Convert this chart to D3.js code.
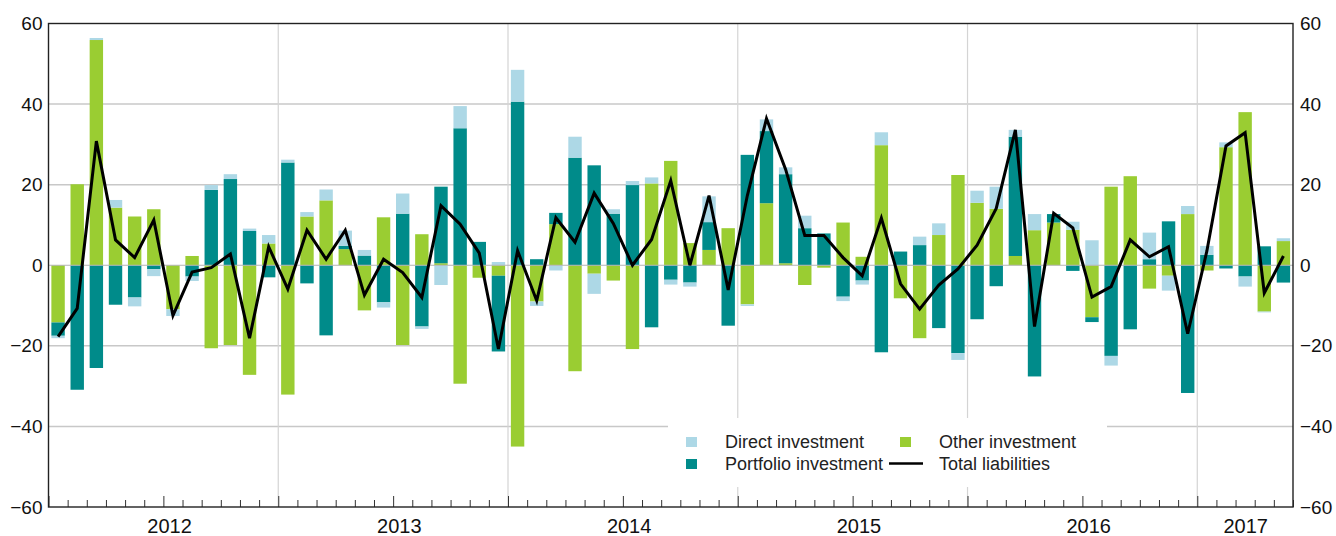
<!DOCTYPE html>
<html>
<meta charset="utf-8">
<style>
  body { margin: 0; background: #fff; }
  svg {
    width: 1336px;
    height: 536px;
    display: block;
    font-family: "Liberation Sans", Arial, sans-serif;
  }
</style>

<body>
  <svg></svg>
</body>

<script src="https://d3js.org/d3.v7.min.js"></script>

<script>

  // monthly values, Jan 2012 - May 2017
  var years = ["2012", "2013", "2014", "2015", "2016", "2017"];

  var direct = [-0.6, 0, 0.5, 1.9, -2.2, -1.7, -1.7, -1.1, 1.2, 1.2, 0.6, 2.1,
                0.7, 1.1, 2.7, 3.8, 1.4, -1.3, 5.0, -0.6, -4.9, 5.5, 0, 0.8,
                7.9, -1.1, -1.3, 5.2, -5.0, 1.1, 1.0, 1.5, -1.2, -1.0, 6.4, 0,
                -0.4, 2.9, 1.7, 3.1, 0, -1.1, -1.0, 3.2, 0, 2.1, 2.9, -1.7,
                3.0, 5.5, 1.7, 4.0, 0, 2.0, 6.2, -2.4, 0, 6.6, -3.7, 2.0,
                2.2, 1.2, -2.5, -0.2, 0.7];

  var portfolio = [-3.3, -30.9, -25.5, -9.8, -8.0, -1.0, 0, -2.8, 18.7, 21.4, 8.5, -3.0,
                   25.5, -4.5, -17.4, 0.8, 2.4, -9.2, 12.8, -15.2, 19.0, 34.0, 5.8, -18.8,
                   40.6, 1.5, 2.8, 26.7, 24.8, 12.8, 19.9, -15.4, -3.6, -4.3, 6.9, -15.0,
                   27.4, 17.9, 22.1, 9.2, 7.9, -7.8, -3.8, -21.6, 3.4, 5.0, -15.6, -21.8,
                   -13.4, -5.2, 29.6, -27.6, 2.1, -1.4, -1.2, -22.5, -15.9, 1.5, 10.9, -31.7,
                   2.6, -0.8, -2.8, 4.7, -4.3];

  var other = [-14.2, 20.1, 55.9, 14.3, 12.1, 13.9, -10.9, 2.3, -20.6, -19.8, -27.2, 5.4,
               -32.1, 12.1, 16.1, 4.0, -11.2, 11.9, -19.8, 7.7, 0.5, -29.4, -3.1, -2.6,
               -45.0, -9.0, 10.2, -26.3, -2.1, -3.8, -20.8, 20.3, 25.9, 5.5, 3.8, 9.2,
               -9.7, 15.4, 0.5, -4.9, -0.6, 10.6, 2.1, 29.8, -8.2, -18.1, 7.5, 22.4,
               15.5, 14.0, 2.3, 8.7, 10.6, 8.8, -12.9, 19.5, 22.1, -5.8, -2.6, 12.7,
               -1.3, 29.3, 38.0, -11.5, 6.0];

  var total = [-17.7, -10.7, 30.8, 6.3, 1.9, 11.2, -12.5, -1.7, -0.6, 2.8, -18.1, 4.6,
               -5.9, 8.7, 1.5, 8.7, -7.4, 1.5, -1.8, -8.0, 14.8, 10.2, 3.0, -20.8,
               3.6, -8.8, 11.8, 5.7, 17.9, 10.4, 0, 6.4, 21.0, 0, 17.3, -6.1,
               17.3, 36.4, 23.8, 7.4, 7.4, 1.9, -2.6, 11.7, -4.6, -10.9, -4.9, -0.9,
               5.0, 14.1, 33.6, -15.2, 12.9, 9.3, -7.9, -5.3, 6.3, 2.1, 4.6, -17.0,
               3.5, 29.6, 32.9, -6.9, 2.3];

  var yTicks = [-60, -40, -20, 0, 20, 40, 60];

  var keys = ["other", "portfolio", "direct"];
  var names = {direct: "Direct investment", portfolio: "Portfolio investment", other: "Other investment"};
  var colors = {direct: "#add8e6", portfolio: "#008b8a", other: "#9acd32"};

  var margin = {top: 23.5, right: 43, bottom: 29, left: 48.5},
      width = 1336 - margin.left - margin.right,
      height = 536 - margin.top - margin.bottom;

  var svg = d3.select("svg").append("g")
      .attr("transform", "translate(" + margin.left + "," + margin.top + ")");

  var months = d3.range(direct.length);
  var table = months.map(function(i) {
    return {month: i, direct: direct[i], portfolio: portfolio[i], other: other[i]};
  });

  var x = d3.scaleBand().domain(months).range([0, width]).paddingInner(0.3).paddingOuter(0.15);
  // month boundaries, for ticks and year lines
  var xm = d3.scaleLinear().domain([0, months.length]).range([0, width]);
  var y = d3.scaleLinear().domain([-60, 60]).range([height, 0]);

  // grid
  svg.append("g").selectAll("line")
      .data([-40, -20, 20, 40]).enter().append("line")
      .attr("x1", 0).attr("x2", width)
      .attr("y1", function(d) { return y(d); }).attr("y2", function(d) { return y(d); })
      .attr("stroke", "#c8c8c8").attr("stroke-width", 1.5);

  svg.append("g").selectAll("line")
      .data([12, 24, 36, 48, 60]).enter().append("line")
      .attr("x1", function(d) { return xm(d); }).attr("x2", function(d) { return xm(d); })
      .attr("y1", 0).attr("y2", height)
      .attr("stroke", "#d4d4d4").attr("stroke-width", 1.2);

  // legend box hides the grid behind it
  svg.append("rect")
      .attr("x", 668 - margin.left).attr("y", 418 - margin.top)
      .attr("width", 439).attr("height", 69)
      .attr("fill", "#fff");

  // stacked bars
  var series = d3.stack().keys(keys).offset(d3.stackOffsetDiverging)(table);

  svg.append("g").selectAll("g")
      .data(series).enter().append("g")
      .attr("fill", function(d) { return colors[d.key]; })
      .selectAll("rect")
      .data(function(d) { return d; }).enter().append("rect")
      .attr("x", function(d) { return x(d.data.month); })
      .attr("width", x.bandwidth())
      .attr("y", function(d) { return y(Math.max(d[0], d[1])); })
      .attr("height", function(d) { return Math.abs(y(d[0]) - y(d[1])); });

  // zero line
  svg.append("line")
      .attr("x1", 0).attr("x2", width)
      .attr("y1", y(0)).attr("y2", y(0))
      .attr("stroke", "#b4b4b4").attr("stroke-width", 1);

  // total liabilities
  var line = d3.line()
      .x(function(d, i) { return x(i) + x.bandwidth() / 2; })
      .y(function(d) { return y(d); });

  svg.append("path")
      .datum(total)
      .attr("d", line)
      .attr("fill", "none")
      .attr("stroke", "#000")
      .attr("stroke-width", 3)
      .attr("stroke-linejoin", "miter");

  // axes
  function fmt(d) { return d < 0 ? "\u2212" + Math.abs(d) : d; }

  var yLeft = svg.append("g")
      .call(d3.axisLeft(y).tickValues(yTicks).tickSize(0).tickPadding(6).tickFormat(fmt));
  var yRight = svg.append("g").attr("transform", "translate(" + width + ",0)")
      .call(d3.axisRight(y).tickValues(yTicks).tickSize(0).tickPadding(7).tickFormat(fmt));

  var xTicks = svg.append("g").attr("transform", "translate(0," + height + ")")
      .call(d3.axisBottom(xm).tickValues(d3.range(0, months.length + 1)).tickSize(-7).tickFormat(""));
  xTicks.selectAll(".tick line")
      .attr("y2", function(d) { return d % 6 === 0 ? -11 : -7; })
      .attr("stroke", "#333");

  // year labels, centred on the visible months of each year
  var yearPos = years.map(function(yr, i) {
    var a = i * 12, b = Math.min(a + 12, months.length);
    return b - a === 12 ? a + 6.3 : (a + b) / 2;
  });
  var xLabels = svg.append("g").attr("transform", "translate(0," + height + ")")
      .call(d3.axisBottom(xm).tickValues(yearPos).tickSize(0).tickPadding(12)
        .tickFormat(function(d, i) { return years[i]; }));

  [yLeft, yRight, xTicks, xLabels].forEach(function(g) {
    g.select(".domain").remove();
    g.selectAll("text").attr("fill", "#111")
      .style("font-family", "'Liberation Sans', Arial, sans-serif");
  });
  yLeft.selectAll("text").style("font-size", "19px");
  yRight.selectAll("text").style("font-size", "19px");
  xLabels.selectAll("text").style("font-size", "20px");

  // frame
  svg.append("rect")
      .attr("width", width).attr("height", height)
      .attr("fill", "none").attr("stroke", "#222").attr("stroke-width", 1.4);

  // legend
  var legend = svg.append("g").attr("transform", "translate(" + (686 - margin.left) + "," + (437 - margin.top) + ")")
      .style("font-size", "18px").attr("fill", "#222");

  var items = [
    {key: "direct", col: 0, row: 0},
    {key: "portfolio", col: 0, row: 1},
    {key: "other", col: 1, row: 0},
    {key: "total", col: 1, row: 1}
  ];

  items.forEach(function(it) {
    var gx = it.col * 214, gy = it.row * 22;
    if (it.key === "total") {
      legend.append("line")
          .attr("x1", gx - 11).attr("x2", gx + 23)
          .attr("y1", gy + 4.5).attr("y2", gy + 4.5)
          .attr("stroke", "#000").attr("stroke-width", 2.5);
    } else {
      legend.append("rect")
          .attr("x", gx).attr("y", gy)
          .attr("width", 11).attr("height", 10)
          .attr("fill", colors[it.key]);
    }
    legend.append("text")
        .attr("x", gx + 39).attr("y", gy + 11)
        .text(it.key === "total" ? "Total liabilities" : names[it.key]);
  });

</script>

</html>
